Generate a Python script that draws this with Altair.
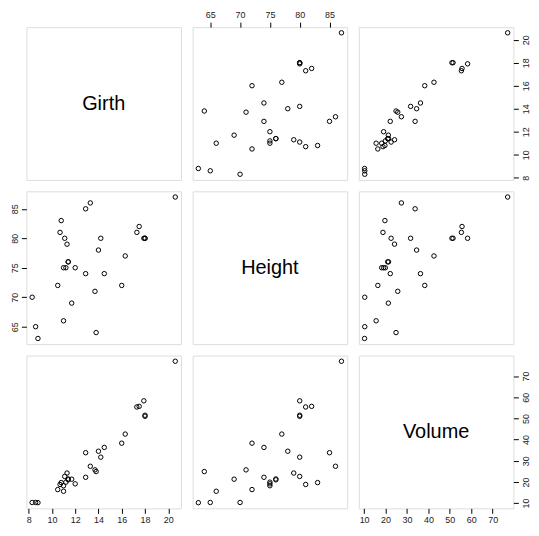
import altair as alt
import pandas as pd

# R "trees" data set (pairs plot)
girth = [8.3, 8.6, 8.8, 10.5, 10.7, 10.8, 11.0, 11.0, 11.1, 11.2, 11.3, 11.4, 11.4, 11.7, 12.0,
         12.9, 12.9, 13.3, 13.7, 13.8, 14.0, 14.2, 14.5, 16.0, 16.3, 17.3, 17.5, 17.9, 18.0, 18.0, 20.6]
height = [70, 65, 63, 72, 81, 83, 66, 75, 80, 75, 79, 76, 76, 69, 75,
          74, 85, 86, 71, 64, 78, 80, 74, 72, 77, 81, 82, 80, 80, 80, 87]
volume = [10.3, 10.3, 10.2, 16.4, 18.8, 19.7, 15.6, 18.2, 22.6, 19.9, 24.2, 21.0, 21.4, 21.3, 19.1,
          22.2, 33.8, 27.4, 25.7, 24.9, 34.5, 31.7, 36.3, 38.3, 42.6, 55.4, 55.7, 58.3, 51.5, 51.0, 77.0]
variables = ["Girth", "Height", "Volume"]
girth_ticks = [8, 10, 12, 14, 16, 18, 20]
height_ticks = [65, 70, 75, 80, 85]
volume_ticks = [10, 20, 30, 40, 50, 60, 70]

df = pd.DataFrame({"Girth": girth, "Height": height, "Volume": volume})
ticks = {"Girth": girth_ticks, "Height": height_ticks, "Volume": volume_ticks}

FONT = "Liberation Sans"
W = 155.3
H = 153.5


def dom(vals):
    lo, hi = min(vals), max(vals)
    d = (hi - lo) * 0.04
    return [lo - d, hi + d]


domains = {v: dom(df[v].tolist()) for v in variables}


def make_axis(orient, values):
    if orient in ("top", "bottom"):
        angle, align = 0, "center"
        base = "bottom" if orient == "top" else "top"
        pad = 3 if orient == "top" else 2
    else:
        angle, align = 270, "center"
        base = "bottom" if orient == "left" else "top"
        pad = 2 if orient == "left" else 3
    return alt.Axis(orient=orient, values=values, title=None, grid=False, domain=False,
                    ticks=True, tickSize=5, tickColor="black", tickWidth=1,
                    labelFontSize=9, labelFont=FONT, labelColor="#222222",
                    labelPadding=pad, labelAngle=angle, labelAlign=align,
                    labelBaseline=base, labelOverlap=False, labelFlush=False)


def axes_for(i, j):
    # R pairs(): x axes bottom on last row (odd cols), top on first row (even cols)
    # y axes left on first col (even rows), right on last col (odd rows)
    n = 3
    xa = ya = None
    if i == 0 and (j + 1) % 2 == 0:
        xa = "top"
    if i == n - 1 and (j + 1) % 2 == 1:
        xa = "bottom"
    if j == 0 and (i + 1) % 2 == 0:
        ya = "left"
    if j == n - 1 and (i + 1) % 2 == 1:
        ya = "right"
    return xa, ya


panels = []
for i, yv in enumerate(variables):
    for j, xv in enumerate(variables):
        xa, ya = axes_for(i, j)
        xaxis = make_axis(xa, ticks[xv]) if xa else None
        yaxis = make_axis(ya, ticks[yv]) if ya else None
        if i == j:
            txt = alt.Chart(pd.DataFrame({"label": [xv]})).mark_text(
                font=FONT, fontSize=20, color="black", align="center", baseline="middle"
            ).encode(text="label:N", x=alt.value(W / 2), y=alt.value(H / 2))
            if xa or ya:
                ghost = alt.Chart(df).mark_point(opacity=0).encode(
                    x=alt.X(f"{xv}:Q", scale=alt.Scale(domain=domains[xv], nice=False, zero=False),
                            axis=xaxis),
                    y=alt.Y(f"{yv}:Q", scale=alt.Scale(domain=domains[yv], nice=False, zero=False),
                            axis=yaxis),
                )
                p = alt.layer(ghost, txt).properties(width=W, height=H)
            else:
                p = txt.properties(width=W, height=H)
        else:
            p = alt.Chart(df).mark_point(
                shape="circle", filled=False, stroke="black", strokeWidth=1, size=20, opacity=1
            ).encode(
                x=alt.X(f"{xv}:Q", scale=alt.Scale(domain=domains[xv], nice=False, zero=False),
                        axis=xaxis),
                y=alt.Y(f"{yv}:Q", scale=alt.Scale(domain=domains[yv], nice=False, zero=False),
                        axis=yaxis),
            ).properties(width=W, height=H)
        panels.append(p)

chart = alt.concat(*panels, columns=3, spacing=11, bounds="flush").properties(
    padding={"left": 1.5, "top": 0, "right": 0, "bottom": 0}
).configure_view(stroke="#222222", strokeWidth=1).configure(background="white")

chart.save("out.html", embed_options={"renderer": "svg", "actions": False})
